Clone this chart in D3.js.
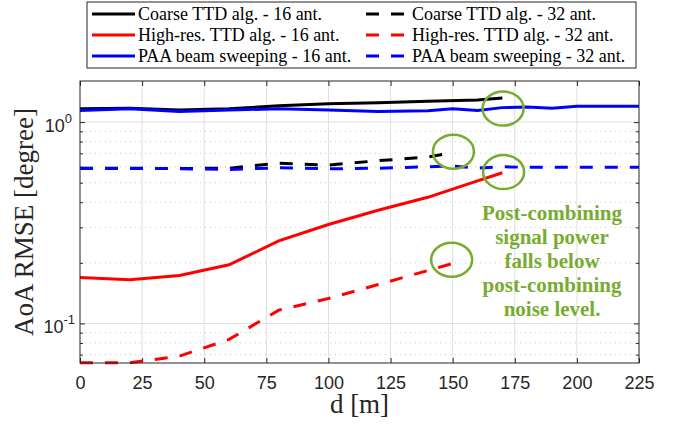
<!DOCTYPE html>
<html>
<head>
<meta charset="utf-8">
<script src="https://cdn.jsdelivr.net/npm/d3@7"></script>
<style>
  body { margin: 0; background: #fff; }
  svg { display: block; }
  .serif { font-family: "Liberation Serif", "Times New Roman", Times, "DejaVu Serif", serif; }
  .sans { font-family: "Liberation Sans", Arial, Helvetica, sans-serif; }
</style>
</head>
<body>
<div id="chart"></div>
<script>
// ---- data ----
const dist16 = [0, 20, 40, 60, 80, 100, 120, 140, 160, 170];
const coarse16 = [1.165, 1.17, 1.147, 1.165, 1.205, 1.233, 1.247, 1.27, 1.286, 1.316];
const hires16 = [0.169, 0.165, 0.173, 0.1955, 0.257, 0.31, 0.365, 0.423, 0.511, 0.56];

const dist32 = [0, 20, 40, 60, 80, 100, 120, 140, 150];
const coarse32 = [0.59, 0.59, 0.588, 0.59, 0.625, 0.612, 0.643, 0.67, 0.705];
const hires32 = [0.0637, 0.0637, 0.0688, 0.0833, 0.1164, 0.133, 0.156, 0.183, 0.1986];

const distPAA = [0, 20, 40, 60, 80, 100, 120, 140, 150, 160, 170, 180, 190, 200, 210, 225];
const paa16 = [1.143, 1.165, 1.13, 1.147, 1.165, 1.15, 1.13, 1.14, 1.165, 1.143, 1.18, 1.19, 1.17, 1.2, 1.2, 1.2];
const paa32 = [0.589, 0.589, 0.587, 0.582, 0.593, 0.586, 0.59, 0.6, 0.605, 0.59, 0.6, 0.596, 0.596, 0.596, 0.596, 0.596];

const xTicks = [0, 25, 50, 75, 100, 125, 150, 175, 200, 225];
const yTickExp = [0, -1];

const legendLabels = [
  "Coarse TTD alg. - 16 ant.", "Coarse TTD alg. - 32 ant.",
  "High-res. TTD alg. - 16 ant.", "High-res. TTD alg. - 32 ant.",
  "PAA beam sweeping - 16 ant.", "PAA beam sweeping - 32 ant."
];

// circled end points (data coords) and the note
const circleMarks = [[170.3, 1.167], [150.3, 0.713], [170.5, 0.5645], [149.6, 0.207]];
const noteLines = ["Post-combining", "signal power", "falls below", "post-combining", "noise level."];

// ---- layout ----
const W = 681, H = 429;
const plot = {left: 80, right: 639, top: 81, bottom: 363};
const axisColor = "#262626";
const green = "#77AC30";

const svg = d3.select("#chart").append("svg")
  .attr("width", W).attr("height", H)
  .attr("class", "sans");

const x = d3.scaleLinear().domain([0, 225]).range([plot.left, plot.right]);
const y = d3.scaleLog().domain([0.0636, 1.6]).range([plot.bottom, plot.top]);

// grid
const grid = svg.append("g");
const minorVals = [];
[0.01, 0.1, 1].forEach(dec => {
  for (let k = 2; k <= 9; k++) {
    const v = dec * k;
    if (v > y.domain()[0] && v < y.domain()[1]) minorVals.push(v);
  }
});
grid.selectAll(".minor").data(minorVals).enter().append("line")
  .attr("x1", plot.left).attr("x2", plot.right)
  .attr("y1", d => y(d)).attr("y2", d => y(d))
  .attr("stroke", "#c8c8c8").attr("stroke-width", 1)
  .attr("stroke-dasharray", "1,4");
grid.selectAll(".vx").data(xTicks.slice(1, -1)).enter().append("line")
  .attr("x1", d => x(d)).attr("x2", d => x(d))
  .attr("y1", plot.top).attr("y2", plot.bottom)
  .attr("stroke", "#dfdfdf").attr("stroke-width", 1);
grid.selectAll(".hy").data(yTickExp.map(e => Math.pow(10, e))).enter().append("line")
  .attr("x1", plot.left).attr("x2", plot.right)
  .attr("y1", d => y(d)).attr("y2", d => y(d))
  .attr("stroke", "#dfdfdf").attr("stroke-width", 1);

// axes (MATLAB-like box with inward ticks)
const majY = yTickExp.map(e => Math.pow(10, e));
const xAxisB = d3.axisBottom(x).tickValues(xTicks).tickSizeInner(-5).tickSizeOuter(0).tickPadding(13);
const xAxisT = d3.axisTop(x).tickValues(xTicks).tickSizeInner(-5).tickSizeOuter(0).tickFormat("");
const yAxisL = d3.axisLeft(y).tickValues(minorVals).tickSizeInner(-3).tickSizeOuter(0).tickFormat("");
const yAxisR = d3.axisRight(y).tickValues(minorVals).tickSizeInner(-3).tickSizeOuter(0).tickFormat("");
const yMajL = d3.axisLeft(y).tickValues(majY).tickSizeInner(-5).tickSizeOuter(0).tickFormat("");
const yMajR = d3.axisRight(y).tickValues(majY).tickSizeInner(-5).tickSizeOuter(0).tickFormat("");

function styleAxis(g) {
  g.select(".domain").remove();
  g.attr("font-family", null);
  g.selectAll("line").attr("stroke", axisColor);
  g.selectAll("text").attr("fill", axisColor).attr("font-size", 18).attr("class", "sans");
}
svg.append("g").attr("transform", `translate(0,${plot.bottom})`).call(xAxisB).call(styleAxis);
svg.append("g").attr("transform", `translate(0,${plot.top})`).call(xAxisT).call(styleAxis);
svg.append("g").attr("transform", `translate(${plot.left},0)`).call(yAxisL).call(styleAxis);
svg.append("g").attr("transform", `translate(${plot.right},0)`).call(yAxisR).call(styleAxis);
svg.append("g").attr("transform", `translate(${plot.left},0)`).call(yMajL).call(styleAxis);
svg.append("g").attr("transform", `translate(${plot.right},0)`).call(yMajR).call(styleAxis);

// y tick labels as 10^e
yTickExp.forEach(e => {
  const t = svg.append("text")
    .attr("class", "sans")
    .attr("x", plot.left - (e === 0 ? 8 : 5)).attr("y", y(Math.pow(10, e)) + 10)
    .attr("text-anchor", "end").attr("fill", axisColor).attr("font-size", 18);
  t.append("tspan").text("10");
  t.append("tspan").attr("dy", -9).attr("font-size", 13).text(String(e));
});

// clip for data lines
svg.append("clipPath").attr("id", "clip").append("rect")
  .attr("x", plot.left).attr("y", plot.top - 2)
  .attr("width", plot.right - plot.left).attr("height", plot.bottom - plot.top + 4);

const line = d3.line().x(d => x(d[0])).y(d => y(d[1]));
// drawn in legend order, so blue lies on top
const series = [
  {xs: dist16, ys: coarse16, color: "#000000", dash: null},
  {xs: dist32, ys: coarse32, color: "#000000", dash: "13,12"},
  {xs: dist16, ys: hires16, color: "#ff0000", dash: null},
  {xs: dist32, ys: hires32, color: "#ff0000", dash: "13,12"},
  {xs: distPAA, ys: paa16, color: "#0000ff", dash: null},
  {xs: distPAA, ys: paa32, color: "#0000ff", dash: "13,12"}
];
const lines = svg.append("g").attr("clip-path", "url(#clip)");
series.forEach(s => {
  lines.append("path")
    .datum(s.xs.map((d, i) => [d, s.ys[i]]))
    .attr("d", line)
    .attr("fill", "none")
    .attr("stroke", s.color)
    .attr("stroke-width", 3)
    .attr("stroke-dasharray", s.dash);
});

// box outline
svg.append("rect")
  .attr("x", plot.left).attr("y", plot.top)
  .attr("width", plot.right - plot.left).attr("height", plot.bottom - plot.top)
  .attr("fill", "none").attr("stroke", axisColor).attr("stroke-width", 1);

// green circles and note
svg.selectAll(".ring").data(circleMarks).enter().append("ellipse")
  .attr("cx", d => x(d[0])).attr("cy", d => y(d[1]))
  .attr("rx", 20.5).attr("ry", 17)
  .attr("fill", "none").attr("stroke", green).attr("stroke-width", 2.5);

const note = svg.append("text")
  .attr("class", "serif")
  .attr("x", x(190)).attr("y", y(0.326))
  .attr("text-anchor", "middle").attr("fill", green)
  .attr("font-weight", "bold").attr("font-size", 21);
noteLines.forEach((t, i) => {
  note.append("tspan").attr("x", x(190)).attr("dy", i === 0 ? 0 : 24).text(t);
});

// axis labels
svg.append("text")
  .attr("class", "serif")
  .attr("x", x(112.5)).attr("y", 413)
  .attr("text-anchor", "middle").attr("fill", axisColor)
  .attr("font-size", 27).text("d [m]");
svg.append("text")
  .attr("class", "serif")
  .attr("transform", `translate(33,${(plot.top + plot.bottom) / 2}) rotate(-90)`)
  .attr("text-anchor", "middle").attr("fill", axisColor)
  .attr("font-size", 27).text("AoA RMSE [degree]");

// legend
const legend = svg.append("g");
legend.append("rect")
  .attr("x", 87).attr("y", 2).attr("width", 549).attr("height", 66)
  .attr("fill", "#fff").attr("stroke", axisColor).attr("stroke-width", 1);
const legColors = ["#000000", "#000000", "#ff0000", "#ff0000", "#0000ff", "#0000ff"];
legendLabels.forEach((lab, i) => {
  const col = i % 2, row = Math.floor(i / 2);
  const x0 = col === 0 ? 92 : 366;
  const yc = 14 + row * 21;
  legend.append("line")
    .attr("x1", x0).attr("x2", x0 + 43).attr("y1", yc).attr("y2", yc)
    .attr("stroke", legColors[i]).attr("stroke-width", 3)
    .attr("stroke-dasharray", col === 1 ? "13,12" : null);
  legend.append("text")
    .attr("class", "serif")
    .attr("x", x0 + 46).attr("y", yc + 6)
    .attr("fill", "#000")
    .attr("font-size", 18).text(lab);
});
</script>
</body>
</html>
